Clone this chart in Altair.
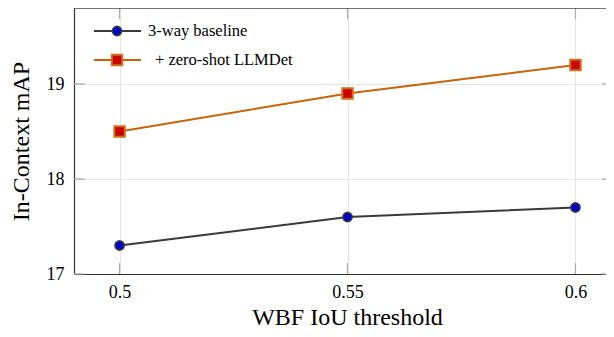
import altair as alt
import pandas as pd

# ---- data ----
thresholds = [0.5, 0.55, 0.6]
series_names = ["3-way baseline", "+ zero-shot LLMDet"]
baseline_vals = [17.3, 17.6, 17.7]
llmdet_vals = [18.5, 18.9, 19.2]
x_ticks = [0.5, 0.55, 0.6]
y_ticks = [17, 18, 19]

rows = []
for t, v in zip(thresholds, baseline_vals):
    rows.append({"x": t, "y": v, "series": series_names[0]})
for t, v in zip(thresholds, llmdet_vals):
    rows.append({"x": t, "y": v, "series": series_names[1]})
df = pd.DataFrame(rows)
xt = pd.DataFrame({"x": x_ticks})
yt = pd.DataFrame({"y": y_ticks})

W, H = 532, 266
FONT = "Liberation Serif"
line_colors = ["#3a3a3a", "#c86408"]
fill_colors = ["#0000cc", "#cc0000"]
stroke_colors = ["#3c3c3c", "#d0701c"]
shapes = ["circle", "square"]
sizes = [85, 110]

xscale = alt.Scale(domain=[0.49, 0.6067], nice=False, zero=False)
yscale = alt.Scale(domain=[17, 19.8], nice=False, zero=False)

xaxis = alt.Axis(values=x_ticks, format="~g", grid=True, gridColor="#e6e6e6",
                 ticks=False, domainColor="#333333", domainWidth=1.2,
                 labelFont=FONT, labelFontSize=18, labelColor="#000",
                 labelPadding=9, title="WBF IoU threshold", titleFont=FONT,
                 titleFontSize=24, titleFontWeight="normal", titleColor="#000",
                 titleBaseline="alphabetic", titleY=50, titleX=W / 2 + 7)
yaxis = alt.Axis(values=y_ticks, format="~g", grid=True, gridColor="#e6e6e6",
                 ticks=False, domainColor="#333333", domainWidth=1.2,
                 labelFont=FONT, labelFontSize=18, labelColor="#000",
                 labelPadding=10, title="In-Context mAP", titleFont=FONT,
                 titleFontSize=24, titleFontWeight="normal", titleColor="#000",
                 titleBaseline="alphabetic", titleX=-46, titleY=H / 2,
                 titleAlign="center", titleAngle=270)

lines = alt.Chart(df).mark_line(strokeWidth=2).encode(
    x=alt.X("x:Q", scale=xscale, axis=xaxis),
    y=alt.Y("y:Q", scale=yscale, axis=yaxis),
    stroke=alt.Stroke("series:N", scale=alt.Scale(domain=series_names, range=line_colors), legend=None),
    detail="series:N",
)

layers = [lines]
for i, name in enumerate(series_names):
    sub = df[df["series"] == name]
    layers.append(
        alt.Chart(sub).mark_point(shape=shapes[i], filled=True, fill=fill_colors[i],
                                  stroke=stroke_colors[i], strokeWidth=1.6 if i == 0 else 2,
                                  size=sizes[i], opacity=1).encode(
            x=alt.X("x:Q", scale=xscale), y=alt.Y("y:Q", scale=yscale))
    )

tick_color = "#aaaaaa"
# inward ticks
layers.append(alt.Chart(xt).mark_rule(color=tick_color, strokeWidth=1.2).encode(
    x=alt.X("x:Q", scale=xscale), y=alt.value(H), y2=alt.value(H - 11)))
layers.append(alt.Chart(xt).mark_rule(color=tick_color, strokeWidth=1.2).encode(
    x=alt.X("x:Q", scale=xscale), y=alt.value(0), y2=alt.value(11)))
layers.append(alt.Chart(yt).mark_rule(color=tick_color, strokeWidth=1.2).encode(
    y=alt.Y("y:Q", scale=yscale), x=alt.value(0), x2=alt.value(11)))
layers.append(alt.Chart(yt).mark_rule(color=tick_color, strokeWidth=1.2).encode(
    y=alt.Y("y:Q", scale=yscale), x=alt.value(W), x2=alt.value(W - 4)))
# top frame line
layers.append(alt.Chart(xt.head(1)).mark_rule(color="#111111", strokeWidth=1.2).encode(
    x=alt.value(0), x2=alt.value(W), y=alt.value(0)))

# legend
leg_y = [23, 52]
leg_text_x = [74, 81]
for i, name in enumerate(series_names):
    one = pd.DataFrame({"series": [name]})
    layers.append(alt.Chart(one).mark_rule(color=line_colors[i], strokeWidth=2).encode(
        x=alt.value(20), x2=alt.value(67), y=alt.value(leg_y[i])))
    layers.append(alt.Chart(one).mark_point(shape=shapes[i], filled=True, fill=fill_colors[i],
                                           stroke=stroke_colors[i], strokeWidth=1.6 if i == 0 else 2,
                                           size=sizes[i], opacity=1).encode(
        x=alt.value(43), y=alt.value(leg_y[i])))
    layers.append(alt.Chart(one).mark_text(font=FONT, fontSize=16.5, align="left",
                                          baseline="middle", color="#000").encode(
        x=alt.value(leg_text_x[i]), y=alt.value(leg_y[i]), text="series:N"))

chart = alt.layer(*layers).properties(
    width=W, height=H,
    autosize=alt.AutoSizeParams(type="none"),
    padding={"left": 66, "top": 0, "right": 0, "bottom": 55},
).configure_view(stroke=None).configure(background="white")

chart.save("out.html", embed_options={"renderer": "svg", "actions": False})
